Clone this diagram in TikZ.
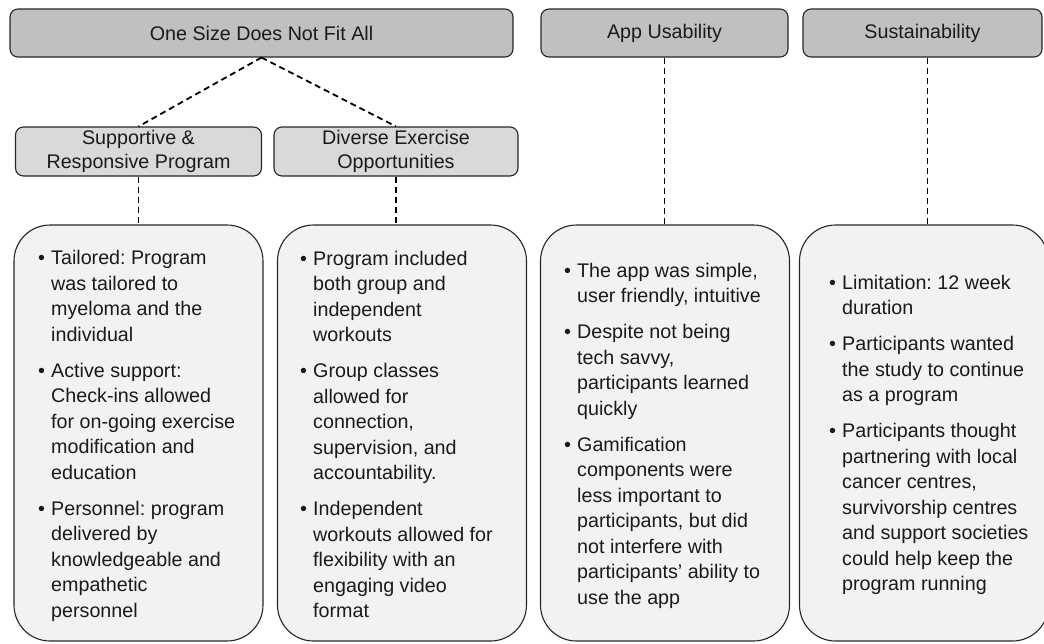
\documentclass[tikz,border=0pt]{standalone}
\usepackage{fontspec}
\setmainfont{Liberation Sans}
\usetikzlibrary{positioning}
\frenchspacing

\definecolor{headfill}{HTML}{C0C0C0}
\definecolor{subfill}{HTML}{D9D9D9}
\definecolor{listfill}{HTML}{F2F2F2}
\definecolor{edge}{HTML}{262626}
\definecolor{ink}{HTML}{1A1A1A}

% one bullet paragraph with a hanging indent; lines are broken by hand with \\
\newcommand{\bitem}[1]{\par\hangindent=13pt\hangafter=1\noindent
  \makebox[13pt][l]{\textbullet}#1}
\newcommand{\blist}[1]{\parbox[t]{240pt}{\fontsize{19.7}{25.5}\selectfont
  \frenchspacing\parskip=10.5pt\parindent=0pt #1}}

\tikzset{
  headbox/.style={draw=edge, line width=1.1pt, fill=headfill, rounded corners=8pt,
    minimum height=48pt, inner sep=0pt, text=ink,
    font=\fontsize{19.7}{23.5}\selectfont},
  subbox/.style={draw=edge, line width=1.1pt, fill=subfill, rounded corners=8pt,
    minimum height=49pt, inner sep=0pt, align=center, text=ink,
    font=\fontsize{19.7}{23.5}\selectfont},
  listbox/.style={draw=edge, line width=1.1pt, fill=listfill, rounded corners=36pt,
    minimum height=416pt, minimum width=249pt, inner sep=0pt},
  listtext/.style={anchor=base west, inner sep=0pt, text=ink},
  link/.style={draw=black, line width=1.8pt, dash pattern=on 6pt off 4pt}
}

\begin{document}
\begin{tikzpicture}[x=1pt,y=-1pt]
\useasboundingbox (0,0) rectangle (1044,643);

% theme headers
\node[headbox, minimum width=503pt] (one) at (261.5,33) {One Size Does Not Fit All};
\node[headbox, minimum width=247pt] (app) at (664.5,33) {App Usability};
\node[headbox, minimum width=239pt] (sus) at (922.5,33) {Sustainability};

% sub-themes
\node[subbox, minimum width=246pt] (sup) at (138.5,151.5) {Supportive \&\\Responsive Program};
\node[subbox, minimum width=244pt] (div) at (396,151.5) {Diverse Exercise\\Opportunities};

% detail boxes
\node[listbox] (l1) at (138.5,433) {};
\node[listbox] (l2) at (402,433) {};
\node[listbox] (l3) at (665,433) {};
\node[listbox] (l4) at (924,433) {};

% dashed connectors
\draw[link] (one.south) -- (sup.north);
\draw[link] (one.south) -- (div.north);
\draw[link] (sup.south) -- (sup.south |- l1.north);
\draw[link] (div.south) -- (div.south |- l2.north);
\draw[link] (app.south) -- (app.south |- l3.north);
\draw[link] ([xshift=5pt]sus.south) -- ([xshift=5pt]sus.south |- l4.north);

% bullet texts
\node[listtext] (t1) at (38,264.7) {\blist{%
\bitem{Tailored: Program\\was tailored to\\myeloma and the\\individual}
\bitem{Active support:\\Check-ins allowed\\for on-going exercise\\modification and\\education}
\bitem{Personnel: program\\delivered by\\knowledgeable and\\empathetic\\personnel}}};

\node[listtext] (t2) at (300,265) {\blist{%
\bitem{Program included\\both group and\\independent\\workouts}
\bitem{Group classes\\allowed for\\connection,\\supervision, and\\accountability.}
\bitem{Independent\\workouts allowed for\\flexibility with an\\engaging video\\format}}};

\node[listtext] (t3) at (564,277) {\blist{%
\bitem{The app was simple,\\user friendly, intuitive}
\bitem{Despite not being\\tech savvy,\\participants learned\\quickly}
\bitem{Gamification\\components were\\less important to\\participants, but did\\not interfere with\\participants’ ability to\\use the app}}};

\node[listtext] (t4) at (829,289.3) {\blist{%
\bitem{Limitation: 12 week\\duration}
\bitem{Participants wanted\\the study to continue\\as a program}
\bitem{Participants thought\\partnering with local\\cancer centres,\\survivorship centres\\and support societies\\could help keep the\\program running}}};
\end{tikzpicture}
\end{document}
